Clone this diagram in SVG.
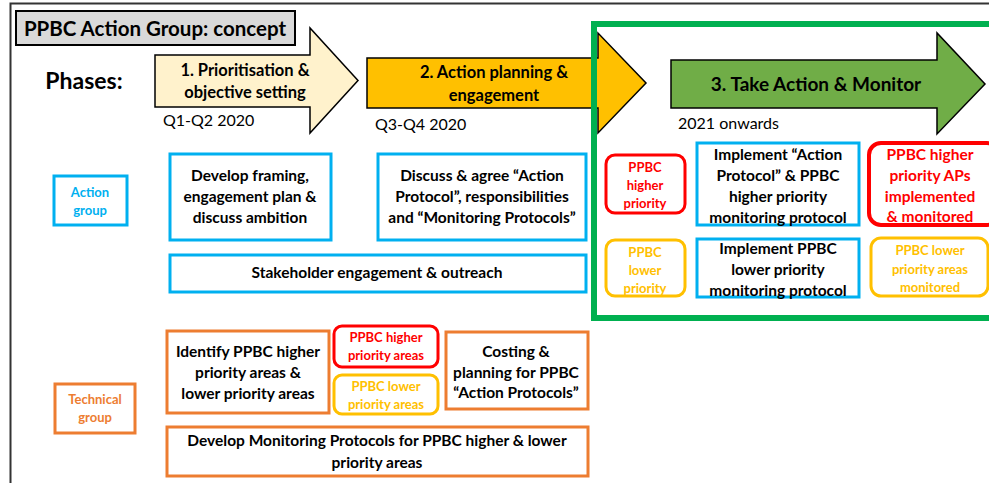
<svg xmlns="http://www.w3.org/2000/svg" width="989" height="483" viewBox="0 0 989 483">
<style>
text{font-family:Lato,"Liberation Sans",sans-serif;font-weight:bold;text-anchor:middle;fill:#000}
.n{font-size:15.5px}
.s{font-size:13px}
.r{font-weight:normal;text-anchor:start;font-size:16px}
.cy{fill:none;stroke:#00b0f0;stroke-width:3}
.or{fill:none;stroke:#ed7d31;stroke-width:3}
.rd{fill:none;stroke:#ff0000;stroke-width:3}
.yl{fill:none;stroke:#ffc000;stroke-width:3}
.tc{fill:#00b0f0}.tr{fill:#ff0000}.ty{fill:#ffc000}.to{fill:#ed7d31}
.arr{stroke:#000;stroke-width:1.5;stroke-linejoin:miter}
</style>
<rect width="989" height="483" fill="#fff"/>
<rect x="10.5" y="3.5" width="1000" height="500" fill="none" stroke="#333" stroke-width="2"/>

<g id="title">
<rect x="16" y="11" width="279" height="34" fill="#d9d9d9" stroke="#000" stroke-width="2"/>
<text x="155" y="36" style="font-size:20.5px">PPBC Action Group: concept</text>
</g>
<g id="phases-label"><text x="84" y="89" style="font-size:23px">Phases:</text></g>

<g id="phase1">
<polygon class="arr" fill="#fff2cc" points="155,55 310,55 310,28 358,80.5 310,133 310,107 155,107"/>
<text x="245" y="76" style="font-size:16.5px">1. Prioritisation &amp;</text>
<text x="245" y="98" style="font-size:16.5px">objective setting</text>
<text class="r" x="163" y="126">Q1-Q2 2020</text>
</g>
<g id="phase2">
<polygon class="arr" fill="#ffc000" points="367,58 598,58 598,33 646,83 598,133 598,108 367,108"/>
<text x="494" y="78" style="font-size:16.5px">2. Action planning &amp;</text>
<text x="494" y="101" style="font-size:16.5px">engagement</text>
<text class="r" x="375" y="130">Q3-Q4 2020</text>
</g>

<g id="green-frame"><rect x="594" y="24" width="420" height="294" fill="none" stroke="#00b050" stroke-width="6"/></g>

<g id="phase3">
<polygon class="arr" fill="#70ad47" points="671,60 937,60 937,33 985,84 937,134 937,108 671,108"/>
<text x="816" y="91" style="font-size:19px">3. Take Action &amp; Monitor</text>
<text class="r" x="678" y="129">2021 onwards</text>
</g>

<g id="action-group">
<rect class="cy" x="54" y="176" width="73" height="49"/>
<text class="s tc" x="90" y="197">Action</text>
<text class="s tc" x="90" y="215">group</text>
</g>
<g id="develop-framing">
<rect class="cy" x="170" y="154" width="161" height="86"/>
<text class="n" x="250" y="181">Develop framing,</text>
<text class="n" x="250" y="202">engagement plan &amp;</text>
<text class="n" x="250" y="223">discuss ambition</text>
</g>
<g id="discuss-agree">
<rect class="cy" x="378" y="154" width="208" height="86"/>
<text class="n" x="482" y="181">Discuss &amp; agree “Action</text>
<text class="n" x="482" y="202">Protocol”, responsibilities</text>
<text class="n" x="482" y="223">and “Monitoring Protocols”</text>
</g>
<g id="stakeholder">
<rect class="cy" x="170" y="255" width="416" height="37"/>
<text class="n" x="377" y="278">Stakeholder engagement &amp; outreach</text>
</g>

<g id="ag-higher">
<rect class="rd" x="606" y="155" width="79" height="58" rx="9"/>
<text class="s tr" x="645" y="172">PPBC</text>
<text class="s tr" x="645" y="190">higher</text>
<text class="s tr" x="645" y="208">priority</text>
</g>
<g id="ag-lower">
<rect class="yl" x="606" y="240" width="79" height="56" rx="9"/>
<text class="s ty" x="645" y="257">PPBC</text>
<text class="s ty" x="645" y="275">lower</text>
<text class="s ty" x="645" y="293">priority</text>
</g>
<g id="implement-higher">
<rect class="cy" x="697" y="143" width="162" height="82"/>
<text class="n" x="778" y="160">Implement “Action</text>
<text class="n" x="778" y="181">Protocol” &amp; PPBC</text>
<text class="n" x="778" y="202">higher priority</text>
<text class="n" x="778" y="223">monitoring protocol</text>
</g>
<g id="implement-lower">
<rect class="cy" x="697" y="239" width="162" height="58"/>
<text class="n" x="778" y="254">Implement PPBC</text>
<text class="n" x="778" y="275">lower priority</text>
<text class="n" x="778" y="296">monitoring protocol</text>
</g>
<g id="higher-implemented">
<rect x="869" y="143" width="130" height="82" rx="12" fill="none" stroke="#ff0000" stroke-width="4"/>
<text class="n tr" x="930" y="160">PPBC higher</text>
<text class="n tr" x="930" y="181">priority APs</text>
<text class="n tr" x="930" y="202">implemented</text>
<text class="n tr" x="930" y="222">&amp; monitored</text>
</g>
<g id="lower-monitored">
<rect class="yl" x="871" y="238" width="117" height="58" rx="10"/>
<text class="s ty" x="930" y="255">PPBC lower</text>
<text class="s ty" x="930" y="274">priority areas</text>
<text class="s ty" x="930" y="292">monitored</text>
</g>

<g id="technical-group">
<rect class="or" x="55" y="384" width="80" height="49"/>
<text class="s to" x="95" y="404">Technical</text>
<text class="s to" x="95" y="422">group</text>
</g>
<g id="identify">
<rect class="or" x="167" y="331" width="162" height="82"/>
<text class="n" x="248" y="357">Identify PPBC higher</text>
<text class="n" x="248" y="378">priority areas &amp;</text>
<text class="n" x="248" y="399">lower priority areas</text>
</g>
<g id="tg-higher">
<rect class="rd" x="334" y="326" width="104" height="41" rx="8"/>
<text class="s tr" x="386" y="342">PPBC higher</text>
<text class="s tr" x="386" y="360">priority areas</text>
</g>
<g id="tg-lower">
<rect class="yl" x="334" y="375" width="104" height="39" rx="8"/>
<text class="s ty" x="386" y="391">PPBC lower</text>
<text class="s ty" x="386" y="409">priority areas</text>
</g>
<g id="costing">
<rect class="or" x="446" y="332" width="142" height="77"/>
<text class="n" x="516" y="357">Costing &amp;</text>
<text class="n" x="516" y="378">planning for PPBC</text>
<text class="n" x="516" y="398">“Action Protocols”</text>
</g>
<g id="develop-monitoring">
<rect class="or" x="167" y="427" width="421" height="49"/>
<text class="n" x="377" y="446">Develop Monitoring Protocols for PPBC higher &amp; lower</text>
<text class="n" x="377" y="468">priority areas</text>
</g>
</svg>
